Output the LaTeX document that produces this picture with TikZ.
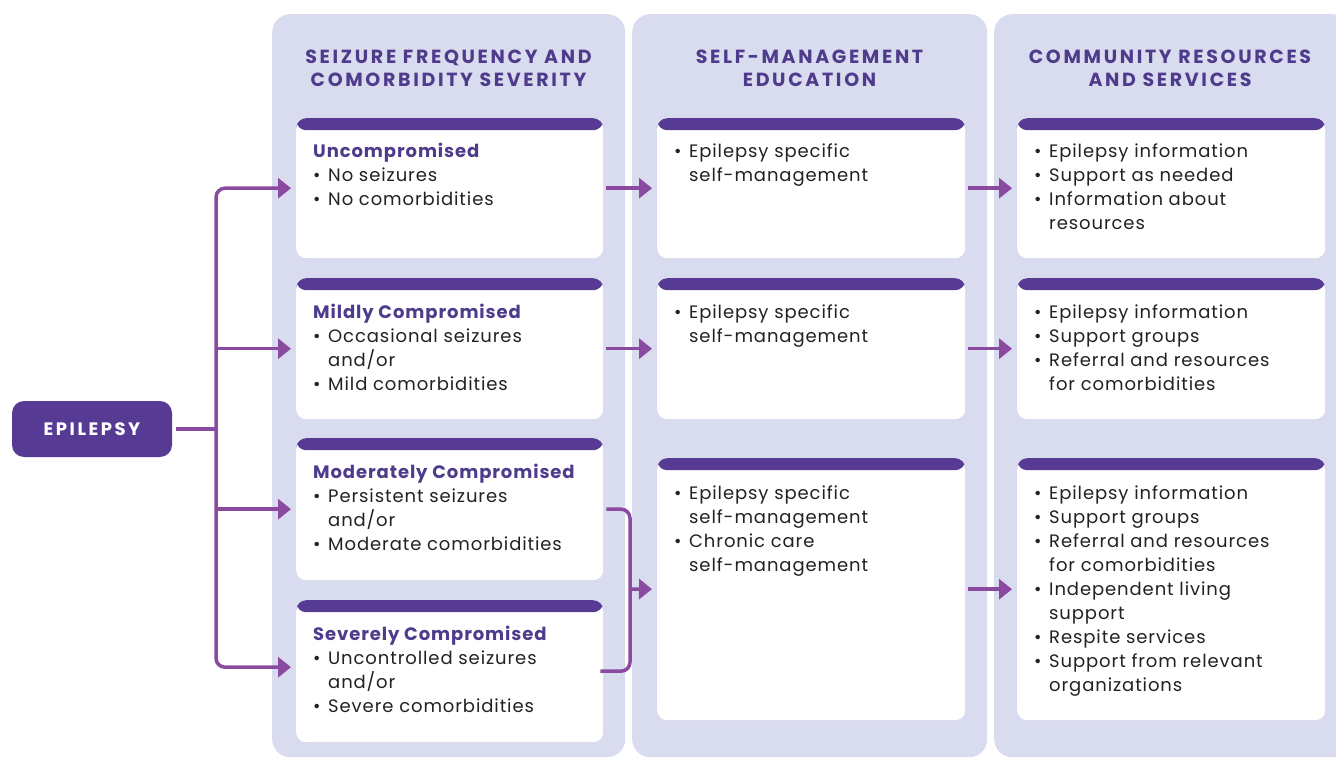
\documentclass[tikz,border=0pt]{standalone}
\usepackage{fontspec}
\setmainfont{Poppins}
\usetikzlibrary{arrows.meta}
\definecolor{panel}{HTML}{D9DBEE}
\definecolor{hdr}{HTML}{563A94}
\definecolor{arr}{HTML}{8A4A9F}
\definecolor{ttl}{HTML}{4E3B8C}
\definecolor{txt}{HTML}{222222}
\newcommand\bl{\makebox[15pt][l]{\textbullet}}
\newcommand\ct{\hspace*{15pt}}
\newcommand\hd[1]{\textcolor{ttl}{\bfseries #1}}
\tikzset{
  panelbox/.style={fill=panel, rounded corners=18pt, inner sep=0pt, anchor=north west},
  card/.style={fill=white, rounded corners=10pt, inner sep=0pt, anchor=north west, minimum width=307pt,
    path picture={\fill[hdr] (path picture bounding box.north west) rectangle ([yshift=-12pt]path picture bounding box.north east);}},
  body/.style={anchor=north west, inner sep=0pt, align=left, text=txt, font=\fontsize{18}{24}\selectfont\addfontfeatures{LetterSpace=5}},
  ttlnode/.style={align=center, text=ttl, inner sep=0pt, font=\bfseries\fontsize{19}{23}\selectfont\addfontfeatures{LetterSpace=14}},
  epi/.style={fill=hdr, rounded corners=12pt, text=white, minimum width=160pt, minimum height=56pt, inner sep=0pt,
    font=\bfseries\fontsize{18}{20}\selectfont\addfontfeatures{LetterSpace=14}},
  conn/.style={draw=arr, line width=3.5pt},
  arrow/.style={conn, -{Triangle[length=13pt,width=20pt]}, shorten >=5pt},
}
\begin{document}
\begin{tikzpicture}[x=1pt,y=-1pt]
\useasboundingbox (0,0) rectangle (1336,759);
% panels
\node[panelbox, minimum width=353pt, minimum height=743pt] (p1) at (272,14) {};
\node[panelbox, minimum width=355pt, minimum height=743pt] (p2) at (632,14) {};
\node[panelbox, minimum width=356pt, minimum height=743pt] (p3) at (994,14) {};
% titles
\node[ttlnode] (t1) at (448.5,68) {SEIZURE FREQUENCY AND\\COMORBIDITY SEVERITY};
\node[ttlnode] (t2) at (809.5,68) {SELF-MANAGEMENT\\EDUCATION};
\node[ttlnode] (t3) at (1170,68) {COMMUNITY RESOURCES\\AND SERVICES};
% cards column 1
\node[card, minimum height=140pt] (s1) at (296,118) {};
\node[card, minimum height=141pt] (s2) at (296,278) {};
\node[card, minimum height=142pt] (s3) at (296,438) {};
\node[card, minimum height=142pt] (s4) at (296,600) {};
% cards column 2
\node[card, minimum width=308pt, minimum height=140pt] (m1) at (657,118) {};
\node[card, minimum width=308pt, minimum height=141pt] (m2) at (657,278) {};
\node[card, minimum width=308pt, minimum height=262pt] (m3) at (657,458) {};
% cards column 3
\node[card, minimum width=308pt, minimum height=140pt] (r1) at (1017,118) {};
\node[card, minimum width=308pt, minimum height=141pt] (r2) at (1017,278) {};
\node[card, minimum width=308pt, minimum height=262pt] (r3) at (1017,458) {};
% texts column 1
\node[body] (ts1) at ([xshift=17pt,yshift=-23pt]s1.north west) {\strut\hd{Uncompromised}\\\bl No seizures\\\bl No comorbidities};
\node[body] (ts2) at ([xshift=17pt,yshift=-23pt]s2.north west) {\strut\hd{Mildly Compromised}\\\bl Occasional seizures\\\ct and/or\\\bl Mild comorbidities};
\node[body] (ts3) at ([xshift=17pt,yshift=-23pt]s3.north west) {\strut\hd{Moderately Compromised}\\\bl Persistent seizures\\\ct and/or\\\bl Moderate comorbidities};
\node[body] (ts4) at ([xshift=17pt,yshift=-23pt]s4.north west) {\strut\hd{Severely Compromised}\\\bl Uncontrolled seizures\\\ct and/or\\\bl Severe comorbidities};
% texts column 2
\node[body] (tm1) at ([xshift=17pt,yshift=-23pt]m1.north west) {\strut\bl Epilepsy specific\\\ct self-management};
\node[body] (tm2) at ([xshift=17pt,yshift=-23pt]m2.north west) {\strut\bl Epilepsy specific\\\ct self-management};
\node[body] (tm3) at ([xshift=17pt,yshift=-24pt]m3.north west) {\strut\bl Epilepsy specific\\\ct self-management\\\bl Chronic care\\\ct self-management};
% texts column 3
\node[body] (tr1) at ([xshift=17pt,yshift=-23pt]r1.north west) {\strut\bl Epilepsy information\\\bl Support as needed\\\bl Information about\\\ct resources};
\node[body] (tr2) at ([xshift=17pt,yshift=-23pt]r2.north west) {\strut\bl Epilepsy information\\\bl Support groups\\\bl Referral and resources\\\ct for comorbidities};
\node[body] (tr3) at ([xshift=17pt,yshift=-24pt]r3.north west) {\strut\bl Epilepsy information\\\bl Support groups\\\bl Referral and resources\\\ct for comorbidities\\\bl Independent living\\\ct support\\\bl Respite services\\\bl Support from relevant\\\ct organizations};
% epilepsy node
\node[epi] (ep) at (92,429) {EPILEPSY};
% connectors
\coordinate (j) at (216,429);
\draw[conn, shorten <=4pt] (ep.east) -- (j);
\draw[arrow, rounded corners=9pt] (j) |- (s1.west);
\draw[arrow, rounded corners=9pt] (j) |- ([yshift=4pt]s4.west);
\draw[arrow] (j |- s2.west) -- (s2.west);
\draw[arrow] (j |- s3.west) -- (s3.west);
\draw[arrow, shorten <=3pt] (s1.east) -- (m1.west);
\draw[arrow, shorten <=3pt] (s2.east) -- (m2.west);
\coordinate (bk) at (630,589);
\draw[conn, rounded corners=9pt, shorten <=3pt, shorten >=-3pt] (s3.east) -| (bk) |- (s4.east);
\draw[arrow] (bk) -- (m3.west);
\draw[arrow, shorten <=3pt] (m1.east) -- (r1.west);
\draw[arrow, shorten <=3pt] (m2.east) -- (r2.west);
\draw[arrow, shorten <=3pt] (m3.east) -- (r3.west);
\end{tikzpicture}
\end{document}
